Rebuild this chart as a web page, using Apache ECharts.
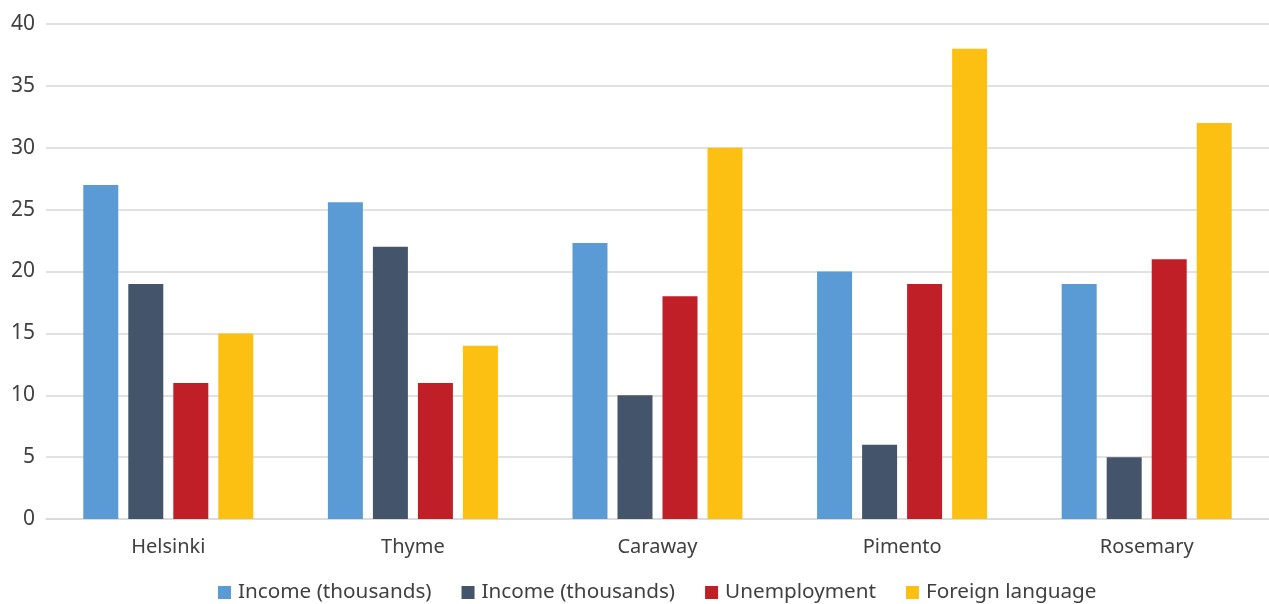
<!DOCTYPE html>
<html>
<head>
<meta charset="utf-8">
<script src="https://cdn.jsdelivr.net/npm/echarts@6/dist/echarts.min.js"></script>
<style>
  html, body { margin: 0; padding: 0; background: #fff; }
  #chart { width: 1269px; height: 604px; }
</style>
</head>
<body>
<div id="chart"></div>
<script>
const categories = ['Helsinki', 'Thyme', 'Caraway', 'Pimento', 'Rosemary']
const seriesNames = ['Income (thousands)', 'Income (thousands) ', 'Unemployment', 'Foreign language']
const incomeA = [27, 25.6, 22.3, 20, 19]
const incomeB = [19, 22, 10, 6, 5]
const unemployment = [11, 11, 18, 19, 21]
const foreignLanguage = [15, 14, 30, 38, 32]
const yTicks = [0, 5, 10, 15, 20, 25, 30, 35, 40]

const colors = ['#5B9BD5', '#44546A', '#C01F27', '#FBC012']
const font = 'Noto Sans'

const chart = echarts.init(document.getElementById('chart'))
const values = [incomeA, incomeB, unemployment, foreignLanguage]

chart.setOption({
    animation: false,
    color: colors,
    grid: { left: 46, right: 0, top: 24, bottom: 85 },
    legend: {
        bottom: 1,
        left: 218,
        padding: 0,
        itemWidth: 13,
        itemHeight: 13,
        itemGap: 30,
        icon: 'rect',
        textStyle: { fontFamily: font, fontSize: 20.7, color: '#404040', padding: [0, 0, 0, 2] },
        formatter: name => name.trim()
    },
    xAxis: {
        type: 'category',
        data: categories,
        axisLine: { lineStyle: { color: '#D9D9D9', width: 1.5 } },
        axisTick: { show: false },
        axisLabel: { fontFamily: font, fontSize: 20, color: '#404040', margin: 18 }
    },
    yAxis: {
        type: 'value',
        min: yTicks[0],
        max: yTicks[yTicks.length - 1],
        interval: 5,
        axisLine: { show: false },
        axisTick: { show: false },
        splitLine: { lineStyle: { color: '#D9D9D9', width: 1.5 } },
        axisLabel: { fontFamily: font, fontSize: 21, color: '#404040', margin: 11 }
    },
    series: seriesNames.map((name, i) => ({
        name: name,
        type: 'bar',
        data: values[i],
        barWidth: 35,
        barGap: '28.6%'
    }))
})
</script>
</body>
</html>
